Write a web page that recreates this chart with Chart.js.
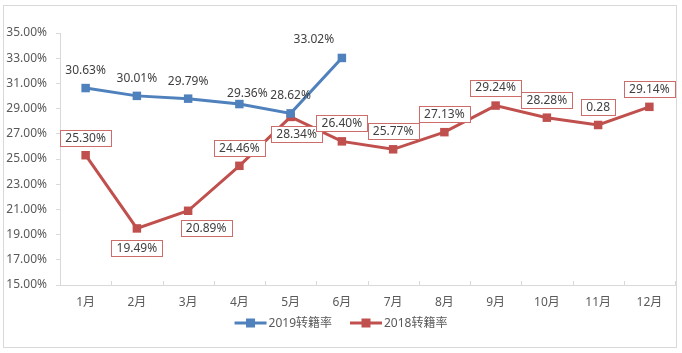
<!DOCTYPE html>
<html>
<head>
<meta charset="utf-8">
<script src="https://cdn.jsdelivr.net/npm/chart.js@4.4.1/dist/chart.umd.min.js"></script>
<style>
  html, body { margin: 0; padding: 0; background: #fff; }
  #wrap { width: 682px; height: 353px; }
</style>
</head>
<body>
<div id="wrap"><canvas id="chart"></canvas></div>
<script>
// 数据
const months = ['1月', '2月', '3月', '4月', '5月', '6月', '7月', '8月', '9月', '10月', '11月', '12月'];
const rate2019 = [30.63, 30.01, 29.79, 29.36, 28.62, 33.02];
const rate2018 = [25.30, 19.49, 20.89, 24.46, 28.34, 26.40, 25.77, 27.13, 29.24, 28.28, 27.70, 29.14];
// 原图 11 月的标注写的是 0.28
const labels2019 = ['30.63%', '30.01%', '29.79%', '29.36%', '28.62%', '33.02%'];
const labels2018 = ['25.30%', '19.49%', '20.89%', '24.46%', '28.34%', '26.40%', '25.77%', '27.13%', '29.24%', '28.28%', '0.28', '29.14%'];
const yMin = 15;
const yMax = 35;
const yStep = 2;

// 标注相对数据点的偏移
const offsets2019 = [[0, -18], [0, -18], [0, -18], [8, -11], [0, -18], [-28, -19]];
const offsets2018 = [[0, -17], [0, 20], [18, 17], [0, -18], [6, 17], [0, -18], [0, -18], [0, -18], [0, -18], [0, -18], [0, -18], [0, -18]];

const FONT_FAMILY = '"Noto Sans", "Noto Sans CJK SC", sans-serif';
const BLUE = '#4f81bd';
const RED = '#c0504d';
const AXIS_GRAY = '#d9d9d9';

const framePlugin = {
  id: 'frame',
  beforeDraw(chart) {
    const ctx = chart.ctx;
    ctx.save();
    ctx.fillStyle = '#fff';
    ctx.fillRect(0, 0, chart.width, chart.height);
    ctx.strokeStyle = '#d9d9d9';
    ctx.lineWidth = 1;
    ctx.strokeRect(3.5, 5.5, 673, 342);
    ctx.restore();
  },
  afterDraw(chart) {
    // x 轴朝内的刻度线
    const ctx = chart.ctx;
    const area = chart.chartArea;
    const step = (area.right - area.left) / months.length;
    ctx.save();
    ctx.strokeStyle = AXIS_GRAY;
    ctx.lineWidth = 1;
    ctx.beginPath();
    for (let k = 0; k <= months.length; k++) {
      const x = Math.round(area.left + k * step) + 0.5;
      ctx.moveTo(x, area.bottom - 4);
      ctx.lineTo(x, area.bottom);
    }
    ctx.stroke();

    // 图例
    ctx.font = '12px ' + FONT_FAMILY;
    ctx.textBaseline = 'middle';
    ctx.textAlign = 'left';
    const items = chart.data.datasets.map(ds => ({ text: ds.label, color: ds.borderColor }));
    const lineW = 32, gap = 2, itemGap = 18;
    let total = 0;
    items.forEach((it, i) => {
      it.w = ctx.measureText(it.text).width;
      total += lineW + gap + it.w + (i > 0 ? itemGap : 0);
    });
    let x = (chart.width - total) / 2;
    const y = 323;
    items.forEach((it) => {
      ctx.strokeStyle = it.color;
      ctx.lineWidth = 3;
      ctx.beginPath();
      ctx.moveTo(x, y);
      ctx.lineTo(x + lineW, y);
      ctx.stroke();
      ctx.fillStyle = it.color;
      ctx.fillRect(x + lineW / 2 - 4.5, y - 4.5, 9, 9);
      ctx.fillStyle = '#595959';
      ctx.fillText(it.text, x + lineW + gap, y + 0.5);
      x += lineW + gap + it.w + itemGap;
    });
    ctx.restore();
  }
};

const labelPlugin = {
  id: 'pointLabels',
  afterDatasetsDraw(chart) {
    const ctx = chart.ctx;
    ctx.save();
    ctx.font = '12px ' + FONT_FAMILY;
    ctx.textAlign = 'center';
    ctx.textBaseline = 'middle';
    chart.data.datasets.forEach((ds, di) => {
      const meta = chart.getDatasetMeta(di);
      meta.data.forEach((pt, i) => {
        const [dx, dy] = ds.labelOffsets[i];
        const x = pt.x + dx;
        const y = pt.y + dy;
        const text = ds.labelTexts[i];
        if (ds.labelBox) {
          const w = Math.round(ctx.measureText(text).width + 10);
          const h = 16;
          const bx = Math.round(x - w / 2) + 0.5;
          const by = Math.round(y - h / 2) + 0.5;
          ctx.fillStyle = '#fff';
          ctx.fillRect(bx, by, w, h);
          ctx.strokeStyle = '#cd6c69';
          ctx.lineWidth = 1;
          ctx.strokeRect(bx, by, w, h);
        }
        ctx.fillStyle = '#404040';
        ctx.fillText(text, x, y + 0.5);
      });
    });
    ctx.restore();
  }
};

new Chart(document.getElementById('chart'), {
  type: 'line',
  data: {
    labels: months,
    datasets: [
      {
        label: '2019转籍率',
        data: rate2019,
        labelTexts: labels2019,
        labelOffsets: offsets2019,
        labelBox: false,
        borderColor: BLUE,
        backgroundColor: BLUE,
        borderWidth: 3,
        pointStyle: 'rect',
        pointRadius: 6,
        pointBorderWidth: 0,
        tension: 0
      },
      {
        label: '2018转籍率',
        data: rate2018,
        labelTexts: labels2018,
        labelOffsets: offsets2018,
        labelBox: true,
        borderColor: RED,
        backgroundColor: RED,
        borderWidth: 3,
        pointStyle: 'rect',
        pointRadius: 6,
        pointBorderWidth: 0,
        tension: 0
      }
    ]
  },
  options: {
    responsive: true,
    maintainAspectRatio: false,
    animation: false,
    layout: { padding: { left: 0, right: 7, top: 33, bottom: 0 } },
    plugins: {
      legend: { display: false },
      tooltip: { enabled: false }
    },
    scales: {
      x: {
        offset: true,
        grid: { display: true, drawOnChartArea: false, drawTicks: false },
        border: { display: true, color: AXIS_GRAY, width: 1 },
        ticks: {
          padding: 10,
          color: '#595959',
          font: { family: FONT_FAMILY, size: 12 }
        },
        afterFit: (scale) => { scale.height = 68; }
      },
      y: {
        min: yMin,
        max: yMax,
        grid: { display: true, drawOnChartArea: false, drawTicks: true, tickLength: 4, color: AXIS_GRAY },
        border: { display: true, color: AXIS_GRAY, width: 1 },
        ticks: {
          stepSize: yStep,
          padding: 9,
          color: '#595959',
          font: { family: FONT_FAMILY, size: 12 },
          callback: (v) => v.toFixed(2) + '%'
        },
        afterFit: (scale) => { scale.width = 60; }
      }
    }
  },
  plugins: [framePlugin, labelPlugin]
});
</script>
</body>
</html>
